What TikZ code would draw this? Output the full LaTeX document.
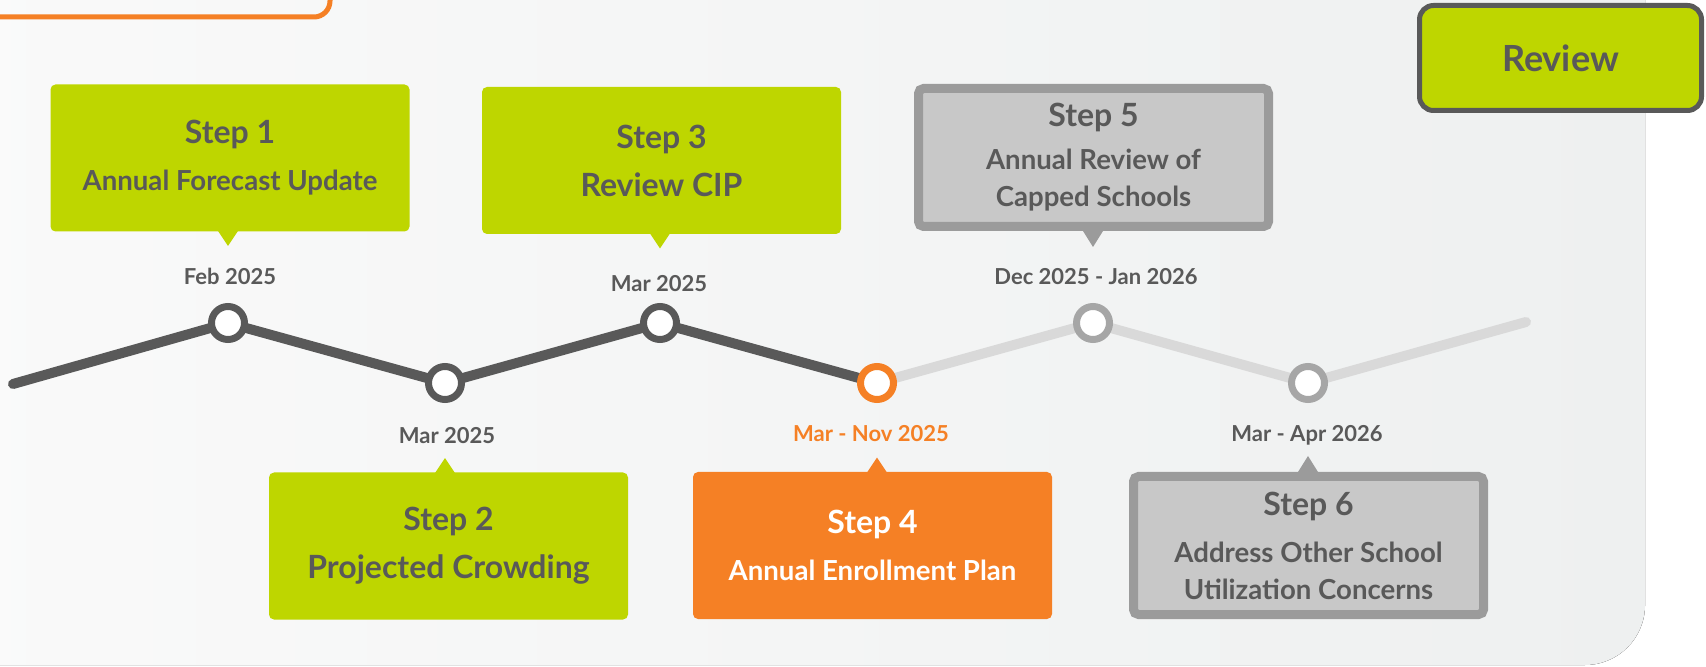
\documentclass[tikz,border=0pt]{standalone}
\usepackage{fontspec}
\setmainfont{Lato}
\usetikzlibrary{positioning}
\pgfdeclarelayer{background}
\pgfsetlayers{background,main}

\definecolor{stepgreen}{HTML}{BED600}
\definecolor{ink}{HTML}{595959}
\definecolor{tangerine}{HTML}{F58025}
\definecolor{paleline}{HTML}{D9D9D9}
\definecolor{greyfill}{HTML}{C8C8C8}
\definecolor{greyedge}{HTML}{9B9B9B}
\definecolor{dotgrey}{HTML}{A6A6A6}
\definecolor{bgleft}{HTML}{FAFAFA}
\definecolor{bgright}{HTML}{EEF0F0}

\newcommand{\steptitle}[1]{{\fontsize{16}{18.5}\selectfont #1}}

\tikzset{
  stepbox/.style={fill=stepgreen, rounded corners=2.5pt, minimum width=179.5pt, minimum height=73.5pt,
    align=center, text=ink, inner sep=0pt, font=\fontsize{13.8}{18.5}\selectfont\bfseries},
  greybox/.style={stepbox, fill=greyfill, draw=greyedge, line width=4.5pt, minimum width=175pt, minimum height=69pt},
  milestone/.style={circle, draw=ink, fill=white, line width=3.5pt, minimum size=16.5pt, inner sep=0pt},
  datelbl/.style={text=ink, font=\fontsize{11}{12}\selectfont\bfseries},
  track/.style={line width=5pt, draw=ink, line cap=round, line join=round}
}

\begin{document}
\begin{tikzpicture}[x=0.5pt, y=-0.5pt]
\useasboundingbox (0,0) rectangle (1706,667);

% milestones on the track
\node[milestone] (n1) at (228,323) {};
\node[milestone] (n2) at (445,383) {};
\node[milestone] (n3) at (660,323) {};
\node[milestone, draw=tangerine] (n4) at (877,383) {};
\node[milestone, draw=dotgrey] (n5) at (1093,323) {};
\node[milestone, draw=dotgrey] (n6) at (1308,383) {};
\coordinate (t0) at (13,384);
\coordinate (t7) at (1526,322);

\begin{pgfonlayer}{background}
\fill[left color=bgleft, right color=bgright, rounded corners=30pt] (-60,-60) rectangle (1645,665);
\draw[tangerine, line width=2.5pt, rounded corners=8pt] (-60,-80) rectangle (330,17);
\draw[track] (t0) -- (n1.center) -- (n2.center) -- (n3.center) -- (n4.center);
\draw[track, draw=paleline] (n4.center) -- (n5.center) -- (n6.center) -- (t7);
\end{pgfonlayer}

\node[stepbox, draw=ink, line width=2.5pt, rounded corners=7pt, minimum width=141pt, minimum height=52.5pt,
  font=\fontsize{18}{18}\selectfont\bfseries] (review) at (1560.5,58) {Review};

% step boxes
\node[stepbox] (s1) at (230,158) {\steptitle{Step 1}\\[5pt] Annual Forecast Update};
\node[stepbox, font=\fontsize{16}{24}\selectfont\bfseries] (s2) at (448.5,546) {Step 2\\ Projected Crowding};
\node[stepbox, font=\fontsize{16}{24}\selectfont\bfseries] (s3) at (661.5,160.5) {Step 3\\ Review CIP};
\node[stepbox, fill=tangerine, text=white] (s4) at (872.5,545.5) {\steptitle{Step 4}\\[5pt] Annual Enrollment Plan};
\node[greybox] (s5) at (1093.5,157.5) {\steptitle{Step 5}\\[3pt] Annual Review of\\ Capped Schools};
\node[greybox] (s6) at (1308.5,545.5) {\steptitle{Step 6}\\[5pt] Address Other School\\ Utilization Concerns};

% pointers
\coordinate (p1) at (s1.south -| n1);
\coordinate (p2) at (s2.north -| n2);
\coordinate (p3) at (s3.south -| n3);
\coordinate (p4) at (s4.north -| n4);
\coordinate (p5) at (s5.south -| n5);
\coordinate (p6) at (s6.north -| n6);
\fill[stepgreen] ([xshift=-5pt,yshift=0.5pt]p1) -- ([yshift=-7pt]p1) -- ([xshift=5pt,yshift=0.5pt]p1) -- cycle;
\fill[stepgreen] ([xshift=-5pt,yshift=-0.5pt]p2) -- ([yshift=7pt]p2) -- ([xshift=5pt,yshift=-0.5pt]p2) -- cycle;
\fill[stepgreen] ([xshift=-5pt,yshift=0.5pt]p3) -- ([yshift=-7pt]p3) -- ([xshift=5pt,yshift=0.5pt]p3) -- cycle;
\fill[tangerine] ([xshift=-5pt,yshift=-0.5pt]p4) -- ([yshift=7pt]p4) -- ([xshift=5pt,yshift=-0.5pt]p4) -- cycle;
\fill[greyedge] ([xshift=-5pt]p5) -- ([yshift=-8pt]p5) -- ([xshift=5pt]p5) -- cycle;
\fill[greyedge] ([xshift=-5pt]p6) -- ([yshift=8pt]p6) -- ([xshift=5pt]p6) -- cycle;

% dates
\node[datelbl] (d1) at (230,276) {Feb 2025};
\node[datelbl] (d2) at (447,436) {Mar 2025};
\node[datelbl] (d3) at (659,284) {Mar 2025};
\node[datelbl, text=tangerine] (d4) at (871,434) {Mar - Nov 2025};
\node[datelbl] (d5) at (1096,277) {Dec 2025 - Jan 2026};
\node[datelbl] (d6) at (1307,435) {Mar - Apr 2026};
\end{tikzpicture}
\end{document}
